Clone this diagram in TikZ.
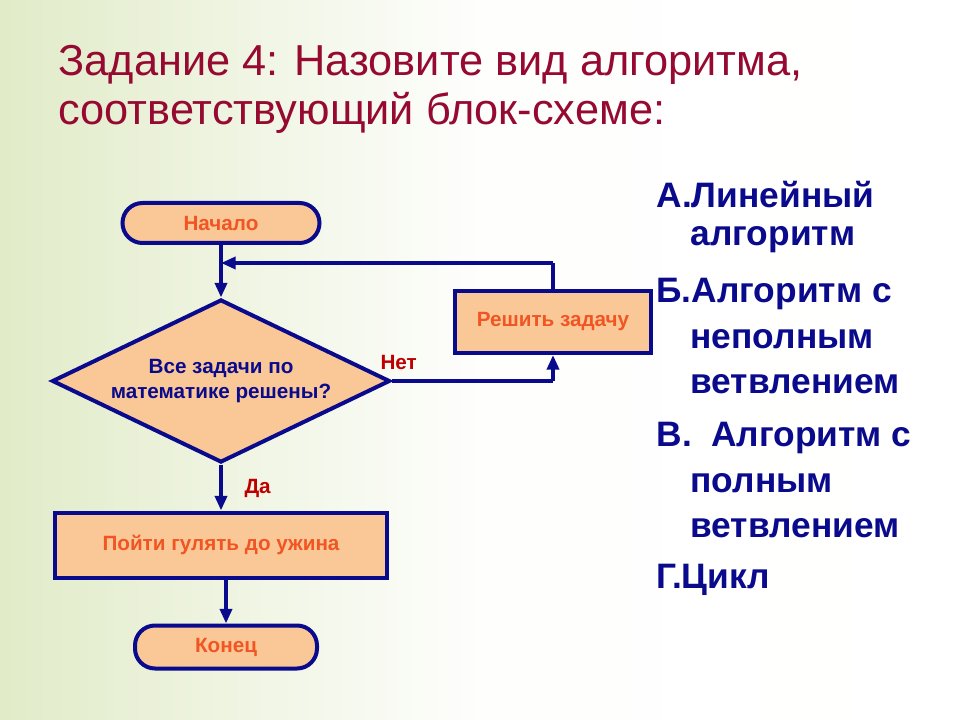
\documentclass[tikz,border=0pt]{standalone}
\usepackage{fontspec}
\setmainfont{Liberation Sans}
\usetikzlibrary{shapes.geometric,arrows.meta}
\definecolor{navy}{RGB}{10,10,140}
\definecolor{boxfill}{RGB}{250,200,150}
\definecolor{boxtext}{RGB}{240,85,35}
\definecolor{titlered}{RGB}{150,10,50}
\definecolor{labelred}{RGB}{190,0,0}
\definecolor{bgleft}{RGB}{225,235,200}
\tikzset{every picture/.style={line width=0.75pt}}
\tikzset{
  block/.style={draw=navy, line width=3pt, fill=boxfill, text=boxtext, font=\fontsize{15.5}{19}\selectfont\bfseries, align=center, inner sep=0pt},
  flow/.style={draw=navy, line width=3pt, -{Triangle[length=11pt,width=9pt]}},
  link/.style={draw=navy, line width=3pt},
  answer/.style={anchor=west, text=navy, font=\fontsize{26.5}{30}\selectfont\bfseries, inner sep=0pt}
}
\begin{document}
\begin{tikzpicture}[x=0.75pt,y=0.75pt,yscale=-1,xscale=1]
        %Background
        \shade [left color=bgleft, right color=white, middle color=white!96!bgleft] (0,0) rectangle (960,720);
        \useasboundingbox (0,0) rectangle (960,720);

        % Title
        \node [anchor=west, text=titlered, font=\fontsize{32.5}{36}\selectfont, inner sep=0pt] (title1) at (58,65) {Задание 4: Назовите вид алгоритма,};
        \node [anchor=west, text=titlered, font=\fontsize{32.5}{36}\selectfont, inner sep=0pt] (title2) at (58,113) {соответствующий блок-схеме:};

        % Blocks
        \node [block, rounded corners=15pt, minimum width=197*0.75pt, minimum height=40*0.75pt] (start) at (221,223) {Начало};
        \node [block, diamond, aspect=2.07, minimum width=338*0.75pt, minimum height=163*0.75pt, text=navy] (check) at (221,381) {Все задачи по\\математике решены?};
        \node [block, minimum width=196*0.75pt, minimum height=62*0.75pt] (solve) at (553,322) {Решить задачу};
        \node [block, minimum width=332*0.75pt, minimum height=65*0.75pt] (walk) at (221,545) {Пойти гулять до ужина};
        \node [block, rounded corners=15pt, minimum width=182*0.75pt, minimum height=43*0.75pt] (finish) at (226,647) {Конец};

        % Connectors
        \coordinate (loopL) at (221,263);
        \coordinate (loopR) at (553,263);
        \coordinate (noR) at (553,381);
        \draw [flow] (start) -- (check.north);
        \draw [link] (solve.north) -- (loopR);
        \draw [flow] (loopR) -- (loopL);
        \draw [link] (check.east) -- (noR);
        \draw [flow] (noR) -- (solve.south);
        \draw [flow] (check.south) -- (walk.north);
        \draw [flow] (walk.south -| finish.north) -- (finish.north);

        % Labels
        \node [anchor=west, text=labelred, font=\fontsize{15.5}{18}\selectfont\bfseries, inner sep=0pt] (no) at (380,362) {Нет};
        \node [anchor=west, text=labelred, font=\fontsize{15.5}{18}\selectfont\bfseries, inner sep=0pt] (yes) at (244,488) {Да};

        % Answers
        \node [answer] (a1) at (656,195) {А.Линейный};
        \node [answer] (a2) at (690,240) {алгоритм};
        \node [answer] (a3) at (656,294) {Б.Алгоритм с};
        \node [answer] (a4) at (690,339) {неполным};
        \node [answer] (a5) at (690,384) {ветвлением};
        \node [answer] (a6) at (656,438) {В.\ \ Алгоритм с};
        \node [answer] (a7) at (690,483) {полным};
        \node [answer] (a8) at (690,528) {ветвлением};
        \node [answer] (a9) at (656,580) {Г.Цикл};
\end{tikzpicture}
\end{document}
